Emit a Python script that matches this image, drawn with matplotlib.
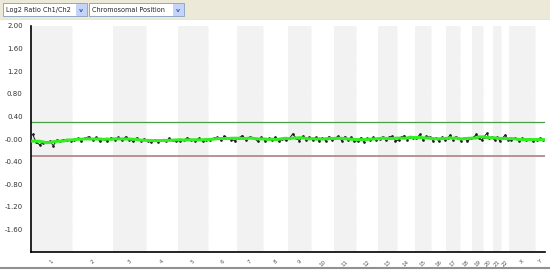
import numpy as np
import pandas as pd
import matplotlib
matplotlib.use("Agg")
import matplotlib.pyplot as plt
from matplotlib.patches import Rectangle

# chromosome names and lengths (Mb)
chroms = ['1', '2', '3', '4', '5', '6', '7', '8', '9', '10', '11', '12', '13', '14',
          '15', '16', '17', '18', '19', '20', '21', '22', 'X', 'Y']
chrom_len = [247, 243, 199, 191, 181, 171, 159, 146, 140, 135, 134, 132, 114, 106,
             100, 89, 79, 76, 64, 62, 47, 50, 155, 58]

# log2 ratio, per chromosome
log2_ratio = [
    [0.08, -0.06, -0.10, -0.07, -0.05, -0.04, -0.12, -0.02, -0.03, -0.01, -0.02, -0.03],
    [-0.02, 0.01, -0.03, 0.02, 0.04, -0.02, 0.03, -0.04, 0.00, -0.03, 0.02],
    [-0.01, 0.03, -0.02, 0.04, -0.01, -0.04, 0.02, -0.03, 0.00],
    [-0.03, -0.06, -0.02, -0.05, -0.01, -0.04, 0.01, -0.02, -0.04],
    [-0.03, -0.02, 0.02, -0.01, -0.03, 0.01, -0.04, -0.02],
    [-0.02, 0.01, 0.03, -0.02, 0.05, 0.02, -0.01, -0.03],
    [0.02, 0.06, -0.01, 0.04, 0.02, -0.04, 0.03],
    [-0.03, 0.01, -0.02, 0.03, -0.04, 0.00, -0.02],
    [0.01, 0.09, 0.02, -0.03, 0.05, -0.01, 0.03],
    [-0.02, 0.03, -0.04, 0.02, -0.03, 0.04, -0.01],
    [0.02, 0.05, -0.03, 0.04, -0.02, 0.03, -0.04],
    [-0.03, 0.02, -0.05, 0.01, -0.02, 0.03, -0.01],
    [0.00, 0.04, -0.02, 0.03, 0.05, -0.03],
    [-0.02, 0.03, 0.06, -0.01, 0.04, 0.02],
    [0.01, 0.08, -0.02, 0.05, 0.03],
    [-0.03, 0.02, -0.04, 0.03, -0.02],
    [0.02, 0.07, -0.01, 0.04, 0.01],
    [-0.03, 0.02, -0.04, 0.01],
    [0.03, 0.08, 0.02, -0.02],
    [0.04, 0.10, 0.01, 0.03],
    [-0.02, 0.03, -0.03],
    [0.02, 0.07, -0.01],
    [-0.02, 0.02, -0.03, 0.01, -0.02, 0.00, -0.03],
    [-0.02, 0.01, -0.01],
]
upper_thr = 0.3
lower_thr = -0.3
yticks = [2.0, 1.6, 1.2, 0.8, 0.4, 0.0, -0.4, -0.8, -1.2, -1.6]

starts = np.concatenate([[0], np.cumsum(chrom_len)[:-1]])
ends = np.cumsum(chrom_len)
total = ends[-1]

fig = plt.figure(figsize=(5.5, 2.7), dpi=100)
fig.patch.set_facecolor('white')

# toolbar strip on top
bar = fig.add_axes([0, 1 - 20 / 270, 1, 20 / 270])
bar.set_xlim(0, 550)
bar.set_ylim(20, 0)
bar.axis('off')
bar.add_patch(Rectangle((0, 0), 550, 20, color='#ece9d8'))
bar.plot([0, 550], [19.5, 19.5], color='#a0a0a0', lw=0.8)
for x0, w, txt in [(3, 84, 'Log2 Ratio Ch1/Ch2'), (89, 95, 'Chromosomal Position')]:
    bar.add_patch(Rectangle((x0, 3), w, 13, facecolor='white', edgecolor='#7f9db9', lw=0.6))
    bar.add_patch(Rectangle((x0 + w - 11, 4), 10, 11, facecolor='#c3d3fd', edgecolor='#b0c4f0', lw=0.4))
    bar.text(x0 + w - 6, 10, 'v', fontsize=4.5, color='#4d6185', ha='center', va='center', fontweight='bold')
    bar.text(x0 + 3, 10, txt, fontsize=4.7, color='#222222', va='center')

ax = fig.add_axes([31 / 550, 18 / 270, 514 / 550, 226 / 270])
ax.set_xlim(0, total)
ax.set_ylim(-2.0, 2.0)

for i in range(len(chroms)):
    if i % 2 == 0 and chroms[i] != 'Y':
        ax.axvspan(starts[i], ends[i], color='#f2f2f2', lw=0, zorder=0)
    ax.axvline(ends[i], color='#e4e4e4', lw=0.5, ls=':', zorder=0)

xs = []
ys = []
for i, vals in enumerate(log2_ratio):
    n = len(vals)
    pos = starts[i] + (np.arange(n) + 0.5) * chrom_len[i] / n
    xs.extend(pos)
    ys.extend(vals)
xs = np.array(xs)
ys = np.array(ys)
smooth = pd.Series(ys).rolling(7, center=True, min_periods=1).mean().values

ax.axhline(upper_thr, color='#4a9e4a', lw=0.9, zorder=2)
ax.axhline(lower_thr, color='#b48a8a', lw=1.3, zorder=2)
ax.plot(xs, ys, color='#1a1a1a', lw=0.7, marker='o', ms=0.9, zorder=3)
ax.plot(xs, smooth, color='#33ee22', lw=2.2, zorder=4)

ax.set_yticks(yticks)
ax.set_yticklabels(['%.2f' % v if v != 0 else '-0.00' for v in yticks])
ax.set_xticks((starts + ends) / 2)
ax.set_xticklabels(chroms, rotation=45)
ax.tick_params(axis='y', length=0, labelsize=5, colors='#333333', pad=6)
ax.tick_params(axis='x', length=0, labelsize=4, colors='#555555', pad=5)
for s in ['top', 'right']:
    ax.spines[s].set_visible(False)
ax.spines['left'].set_linewidth(1.2)
ax.spines['bottom'].set_linewidth(1.2)

# frame at the bottom edge
fig.add_artist(plt.Line2D([0, 1], [2 / 270, 2 / 270], color='#909090', lw=1.5))

fig.savefig('out.png', dpi=100)
